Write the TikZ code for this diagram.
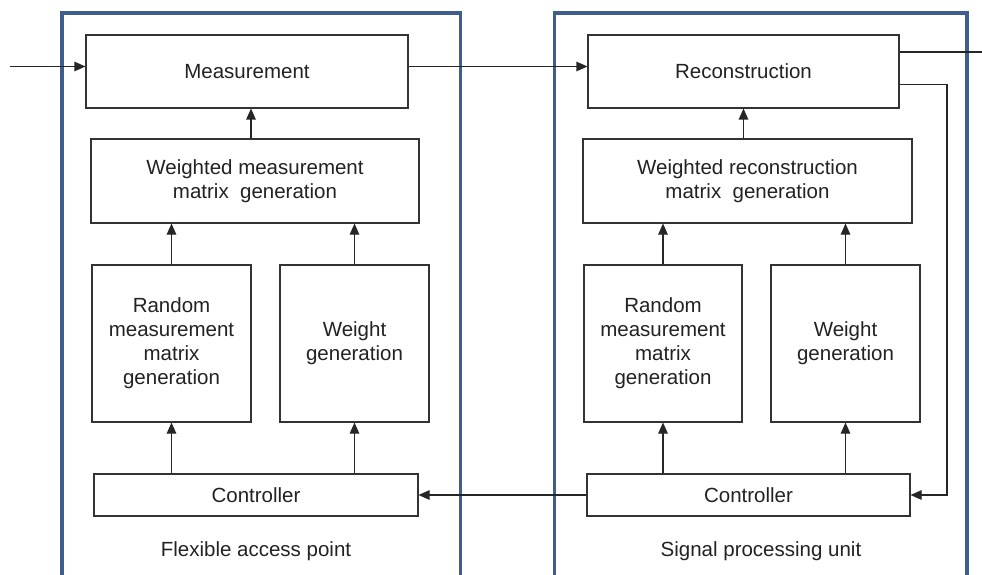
\documentclass[tikz,border=0pt]{standalone}
\usepackage{fontspec}
\setmainfont{Liberation Sans}
\usetikzlibrary{arrows.meta}
\definecolor{contblue}{RGB}{63,94,142}
\definecolor{boxline}{RGB}{51,51,51}
\definecolor{txt}{RGB}{34,34,34}
\tikzset{
  blk/.style={draw=boxline, line width=1.1pt, fill=white, inner sep=0pt, align=center,
    text=txt, font=\fontsize{20.5}{24}\selectfont},
  lbl/.style={inner sep=0pt, text=txt, font=\fontsize{20.5}{24}\selectfont},
  cont/.style={draw=contblue, line width=3.5pt},
  conn/.style={draw=black!85, line width=1.1pt},
  arr/.style={conn, -{Triangle[length=11pt,width=9.5pt]}}
}
\begin{document}
\begin{tikzpicture}[x=1pt,y=-1pt]
\useasboundingbox (0,0) rectangle (982,575);
\clip (0,0) rectangle (982,575);
% containers
\draw[cont] (62,590) -- (62,13) -- (460.5,13) -- (460.5,590);
\draw[cont] (554.5,590) -- (554.5,13) -- (967,13) -- (967,590);
% left unit
\node[blk, minimum width=322pt, minimum height=73pt] (meas) at (247,71.5) {Measurement};
\node[blk, minimum width=328pt, minimum height=84pt] (wmeas) at (255,181) {Weighted measurement\\matrix~ generation};
\node[blk, minimum width=159pt, minimum height=157pt] (rand1) at (171.5,343.5) {Random\\measurement\\matrix\\generation};
\node[blk, minimum width=149pt, minimum height=157pt] (wgt1) at (354.5,343.5) {Weight\\generation};
\node[blk, minimum width=324pt, minimum height=42pt] (ctrl1) at (256,495) {Controller};
\node[lbl] (fap) at (256,551) {Flexible access point};
% right unit
\node[blk, minimum width=311pt, minimum height=73pt] (rec) at (743.5,71.5) {Reconstruction};
\node[blk, minimum width=329pt, minimum height=84pt] (wrec) at (747.5,181) {Weighted reconstruction\\matrix~ generation};
\node[blk, minimum width=158pt, minimum height=157pt] (rand2) at (663,343.5) {Random\\measurement\\matrix\\generation};
\node[blk, minimum width=149pt, minimum height=157pt] (wgt2) at (845.5,343.5) {Weight\\generation};
\node[blk, minimum width=323pt, minimum height=42pt] (ctrl2) at (748.5,495) {Controller};
\node[lbl] (spu) at (761,551) {Signal processing unit};
% free ends
\coordinate (in) at (10,66.5);
\coordinate (out) at (982,52);
\coordinate (fb) at (947,0);
% left connectors
\draw[arr] (in) -- (in -| meas.west);
\draw[arr] (ctrl1.north -| rand1.south) -- (rand1.south);
\draw[arr] (ctrl1.north -| wgt1.south) -- (wgt1.south);
\draw[arr] (rand1.north) -- (rand1.north |- wmeas.south);
\draw[arr] (wgt1.north) -- (wgt1.north |- wmeas.south);
\draw[arr] ([xshift=-4pt]wmeas.north) -- ([xshift=-4pt]wmeas.north |- meas.south);
% between units
\draw[arr] (in -| meas.east) -- (in -| rec.west);
\draw[arr] (ctrl2.west) -- (ctrl1.east);
% right connectors
\draw[arr] (ctrl2.north -| rand2.south) -- (rand2.south);
\draw[arr] (ctrl2.north -| wgt2.south) -- (wgt2.south);
\draw[arr] (rand2.north) -- (rand2.north |- wrec.south);
\draw[arr] (wgt2.north) -- (wgt2.north |- wrec.south);
\draw[arr] (rec.south |- wrec.north) -- (rec.south);
\draw[conn] (out -| rec.east) -- (out);
\draw[arr] ([yshift=-13pt]rec.east) -| (fb |- ctrl2.east) -- (ctrl2.east);
\end{tikzpicture}
\end{document}
